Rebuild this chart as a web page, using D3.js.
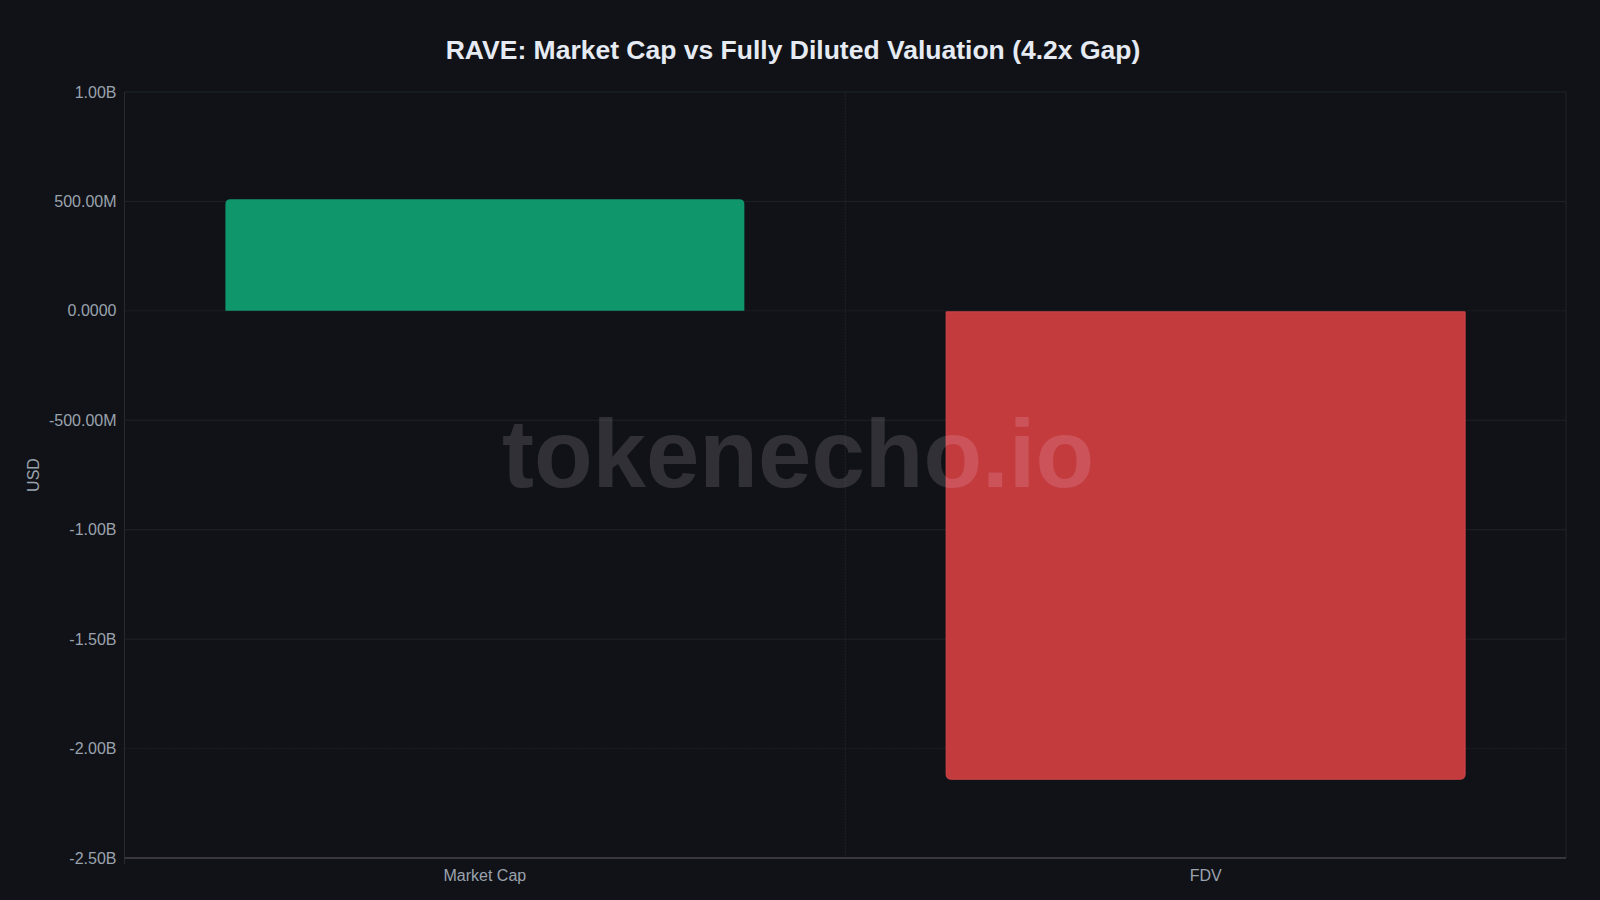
<!DOCTYPE html>
<html>
<head>
<meta charset="utf-8">
<script src="https://cdn.jsdelivr.net/npm/d3@7"></script>
<style>
  html, body { margin: 0; padding: 0; background: #111217; }
  svg { display: block; }
</style>
</head>
<body>
<svg id="chart" width="1600" height="900"></svg>
<script>
const categories = ["Market Cap", "FDV"];
const values = [510e6, -2.14e9];
const barColors = ["#10966b", "#c43b3e"];
const yTicks = [1e9, 5e8, 0, -5e8, -1e9, -1.5e9, -2e9, -2.5e9];
const titleText = "RAVE: Market Cap vs Fully Diluted Valuation (4.2x Gap)";
const yLabel = "USD";
const watermark = "tokenecho.io";

const W = 1600, H = 900;
const margin = { left: 124.5, right: 34, top: 92, bottom: 42 };
const svg = d3.select("#chart");
const font = "'Liberation Sans', Arial, Helvetica, sans-serif";

svg.append("rect").attr("width", W).attr("height", H).attr("fill", "#111217");

const x = d3.scaleBand().domain(categories)
  .range([margin.left, W - margin.right]).paddingInner(0).paddingOuter(0);
const y = d3.scaleLinear().domain([-2.5e9, 1e9]).range([H - margin.bottom, margin.top]);

function fmt(v) {
  const a = Math.abs(v);
  if (a >= 1e9) return (v / 1e9).toFixed(2) + "B";
  if (a >= 1e6) return (v / 1e6).toFixed(2) + "M";
  return v.toFixed(4);
}

// horizontal grid
svg.append("g").selectAll("line").data(yTicks).join("line")
  .attr("x1", margin.left).attr("x2", W - margin.right)
  .attr("y1", d => y(d)).attr("y2", d => y(d))
  .attr("stroke", d => d === 1e9 ? "#1c2529" : "#1f2227")
  .attr("stroke-width", 1)
  .attr("stroke-dasharray", d => d === 0 || d === -2e9 ? "2,1" : null);

// vertical grid at band boundaries
const vLines = categories.slice(1).map(c => x(c)).concat([W - margin.right]);
svg.append("g").selectAll("line").data(vLines).join("line")
  .attr("x1", d => d).attr("x2", d => d)
  .attr("y1", margin.top).attr("y2", H - margin.bottom)
  .attr("stroke", "#1f2227").attr("stroke-width", 1)
  .attr("stroke-dasharray", (d, i) => i === 0 ? "2,1" : null);

// left axis line
svg.append("line")
  .attr("x1", margin.left).attr("x2", margin.left)
  .attr("y1", margin.top).attr("y2", H - margin.bottom + 6)
  .attr("stroke", "#272a30").attr("stroke-width", 1);

// bars with rounded outer corners
const r = 5;
const barFrac = 0.72;
function barPath(i) {
  const bw = x.bandwidth() * barFrac;
  const x0 = x(categories[i]) + (x.bandwidth() - bw) / 2;
  const x1 = x0 + bw;
  const v = values[i];
  const y0 = y(0);
  const yv = y(v);
  if (v >= 0) {
    return `M${x0},${y0} L${x0},${yv + r} Q${x0},${yv} ${x0 + r},${yv} L${x1 - r},${yv} Q${x1},${yv} ${x1},${yv + r} L${x1},${y0} Z`;
  } else {
    return `M${x0},${y0 + 1} L${x0},${yv - r} Q${x0},${yv} ${x0 + r},${yv} L${x1 - r},${yv} Q${x1},${yv} ${x1},${yv - r} L${x1},${y0 + 1} Z`;
  }
}
svg.append("g").selectAll("path").data(values).join("path")
  .attr("d", (d, i) => barPath(i))
  .attr("fill", (d, i) => barColors[i])
  .attr("stroke", (d, i) => i === 1 ? "#d0474b" : "none")
  .attr("stroke-width", 1);

// x axis line
svg.append("line")
  .attr("x1", margin.left).attr("x2", W - margin.right)
  .attr("y1", H - margin.bottom).attr("y2", H - margin.bottom)
  .attr("stroke", "#3a3640").attr("stroke-width", 2);

// y tick labels
svg.append("g").selectAll("text").data(yTicks).join("text")
  .attr("x", margin.left - 8).attr("y", d => y(d))
  .attr("dy", "0.35em").attr("text-anchor", "end")
  .attr("font-family", font).attr("font-size", 16)
  .attr("fill", "#9aa3ae").text(d => fmt(d));

// x tick labels
svg.append("g").selectAll("text").data(categories).join("text")
  .attr("x", d => x(d) + x.bandwidth() / 2).attr("y", H - margin.bottom + 23)
  .attr("text-anchor", "middle")
  .attr("font-family", font).attr("font-size", 16)
  .attr("fill", "#9aa3ae").text(d => d);

// y label
svg.append("text")
  .attr("transform", `translate(39,${(margin.top + H - margin.bottom) / 2}) rotate(-90)`)
  .attr("text-anchor", "middle")
  .attr("font-family", font).attr("font-size", 16)
  .attr("fill", "#9aa3ae").text(yLabel);

// title
svg.append("text")
  .attr("x", 793).attr("y", 59)
  .attr("text-anchor", "middle")
  .attr("font-family", font).attr("font-size", 26.5).attr("font-weight", "bold")
  .attr("fill", "#e6ebf3").text(titleText);

// watermark
svg.append("text")
  .attr("x", 798).attr("y", 487)
  .attr("text-anchor", "middle")
  .attr("font-family", font).attr("font-size", 96).attr("font-weight", "bold")
  .attr("fill", "rgba(250,235,255,0.14)").text(watermark);
</script>
</body>
</html>
